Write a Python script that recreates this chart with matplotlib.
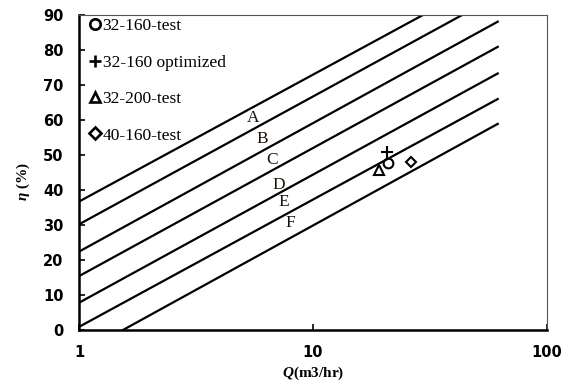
import numpy as np
import matplotlib.pyplot as plt

plt.rcParams["mathtext.fontset"] = "custom"
plt.rcParams["mathtext.it"] = "Liberation Serif:bold:italic"
plt.rcParams["mathtext.rm"] = "Liberation Serif:bold"

# Efficiency lines (start and end points)
line_q0 = [1.0, 1.0, 1.0, 1.0, 1.0, 1.0, 1.54]
line_e0 = [36.7, 30.2, 22.4, 15.4, 7.8, 0.9, 0.0]
line_q1 = [29.5, 43.4, 61.6, 61.6, 61.6, 61.6, 61.6]
line_e1 = [90.0, 90.0, 88.1, 80.9, 73.3, 66.0, 58.9]

# Line labels
label_txt = ["A", "B", "C", "D", "E", "F"]
label_q = [5.54, 6.05, 6.69, 7.16, 7.51, 7.98]
label_e = [60.6, 54.6, 48.6, 41.4, 36.6, 30.6]

# Test points
pts_name = ["32-160-test", "32-160 optimized", "32-200-test", "40-160-test"]
pts_q = [20.9, 20.7, 19.1, 26.2]
pts_e = [47.7, 50.9, 45.7, 48.0]
pts_marker = ["o", "+", "^", "D"]
pts_size = [7, 9, 7.5, 5.5]
leg_size = [7.5, 8.5, 7.5, 5.8]

fig = plt.figure(figsize=(5.61, 3.82), dpi=100)
ax = fig.add_axes([0.1408, 0.136, 0.8342, 0.8247])

for i in range(len(line_q0)):
    ax.plot([line_q0[i], line_q1[i]], [line_e0[i], line_e1[i]], color="black", lw=1.6)

for t, q, e in zip(label_txt, label_q, label_e):
    ax.text(q, e, t, ha="center", va="center", fontsize=12.5, family="Liberation Serif", color="#1a1208")

for n, q, e, m, s in zip(pts_name, pts_q, pts_e, pts_marker, pts_size):
    ax.plot([q], [e], linestyle="none", marker=m, markersize=s, markerfacecolor="none",
            markeredgecolor="black", markeredgewidth=1.5, label=n)

leg = ax.legend(loc="upper left", bbox_to_anchor=(0.019, 0.996), frameon=False,
                handlelength=0.6, handletextpad=0.15, borderpad=0.1, borderaxespad=0,
                labelspacing=1.17, prop={"family": "Liberation Serif", "size": 12.5})
for h, s in zip(leg.legend_handles, leg_size):
    h.set_markersize(s)
    h.set_markeredgewidth(1.9)

ax.set_xscale("log")
ax.set_xlim(1, 100)
ax.set_ylim(0, 90)
ax.set_yticks(np.arange(0, 91, 10))
ax.set_xticks([1, 10, 100])
ax.set_xticklabels(["1", "10", "100"])
ax.xaxis.set_minor_locator(plt.NullLocator())
ax.tick_params(axis="both", direction="in", length=4, width=1.2, labelsize=10.5, top=False, right=False)
ax.tick_params(axis="x", pad=11)
ax.tick_params(axis="y", pad=11)
for lab in ax.get_xticklabels() + ax.get_yticklabels():
    lab.set_fontweight("bold")

ax.spines["left"].set_linewidth(1.8)
ax.spines["bottom"].set_linewidth(1.8)
ax.spines["top"].set_linewidth(0.8)
ax.spines["right"].set_linewidth(0.8)
ax.spines["top"].set_color("#555555")
ax.spines["right"].set_color("#555555")

ax.set_xlabel(r"$Q$(m3/hr)", fontsize=11, fontweight="bold", family="Liberation Serif", labelpad=3)
ax.set_ylabel(r"$\eta$ (%)", fontsize=11, fontweight="bold", family="Liberation Serif")
ax.yaxis.set_label_coords(-0.1, 0.47)

plt.savefig("out.png", dpi=100)
